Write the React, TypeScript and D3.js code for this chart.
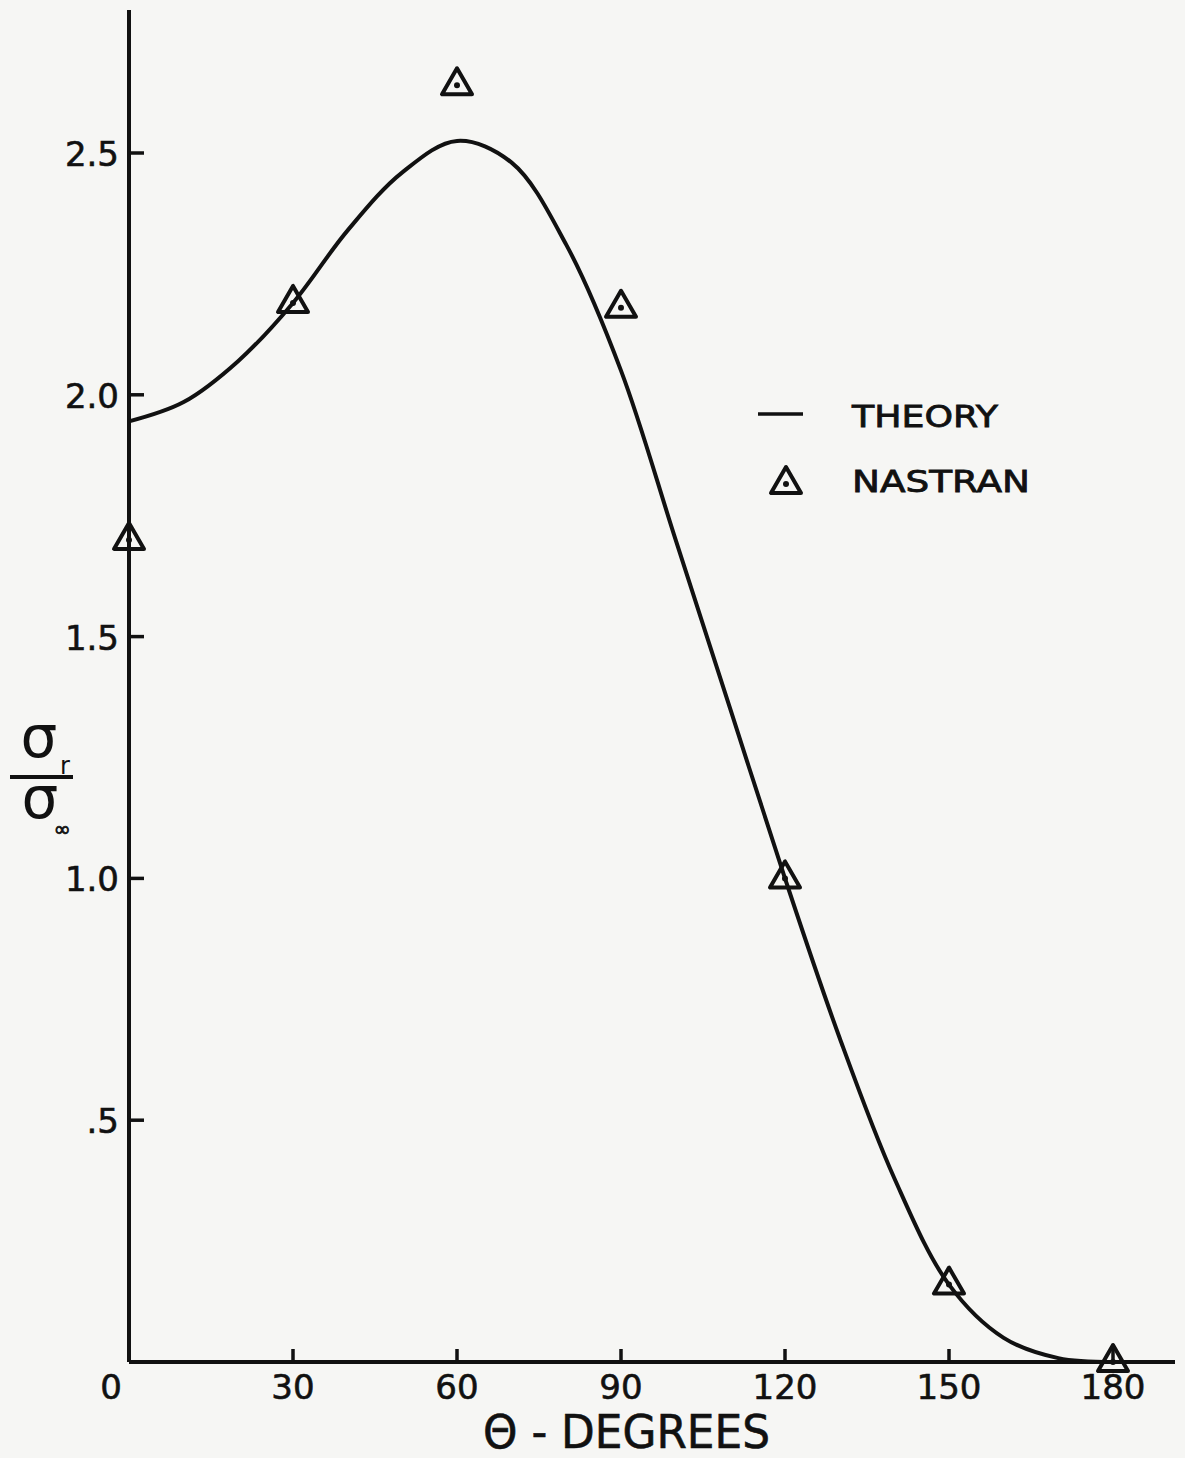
import React from 'react';
import * as d3 from 'd3';

// theory curve, every 10 degrees
const theoryTheta = [0, 10, 20, 30, 40, 50, 60, 70, 80, 90, 100, 110, 120, 130, 140, 150, 160, 170, 180];
const theoryRatio = [1.945, 1.985, 2.07, 2.19, 2.34, 2.46, 2.525, 2.48, 2.31, 2.05, 1.7, 1.35, 1.0, 0.67, 0.38, 0.16, 0.05, 0.008, 0];

// NASTRAN points
const nastranTheta = [0, 30, 60, 90, 120, 150, 180];
const nastranRatio = [1.7, 2.19, 2.64, 2.18, 1.0, 0.16, 0.0];

const xTicks = [0, 30, 60, 90, 120, 150, 180];
const yTicks = [0.5, 1.0, 1.5, 2.0, 2.5];
const yTickLabels = ['.5', '1.0', '1.5', '2.0', '2.5'];

const W = 1185;
const H = 1458;
const BG = '#f6f6f4';
const INK = '#111';
const FONT = "'DejaVu Sans', sans-serif";

function Triangle({ cx, cy }: { cx: number; cy: number }) {
  const pts = [[cx, cy - 17], [cx - 15, cy + 9], [cx + 15, cy + 9]].map(p => p.join(',')).join(' ');
  return (
    <g>
      <polygon points={pts} fill="none" stroke={INK} strokeWidth={4} strokeLinejoin="round" />
      <circle cx={cx} cy={cy} r={3} fill={INK} />
    </g>
  );
}

export default function App() {
  const x = d3.scaleLinear().domain([0, 180]).range([129, 1113]);
  const y = d3.scaleLinear().domain([0, 2.5]).range([1362, 153]);

  const theory = theoryTheta.map((t, i) => ({ t, v: theoryRatio[i] }));
  const line = d3.line<{ t: number; v: number }>()
    .x(d => x(d.t))
    .y(d => y(d.v))
    .curve(d3.curveCatmullRom.alpha(0.5));

  const x0 = x(0);
  const yBase = y(0);

  return (
    <svg width={W} height={H} style={{ position: 'absolute', left: 0, top: 0, display: 'block' }}>
      <rect width={W} height={H} fill={BG} />

      {/* axes */}
      <line x1={x0} x2={x0} y1={10} y2={yBase} stroke={INK} strokeWidth={4} />
      <line x1={x0} x2={1175} y1={yBase} y2={yBase} stroke={INK} strokeWidth={4} />

      {xTicks.filter(t => t > 0).map(t => (
        <line key={'xt' + t} x1={x(t)} x2={x(t)} y1={yBase} y2={yBase - 13} stroke={INK} strokeWidth={3.5} />
      ))}
      {xTicks.map(t => (
        <text key={'xl' + t} x={t === 0 ? x(t) - 18 : x(t)} y={1399} textAnchor="middle"
          fontFamily={FONT} fontSize={34} fill={INK} stroke={INK} strokeWidth={0.6}>{t}</text>
      ))}

      {yTicks.map((v, i) => (
        <g key={'y' + v}>
          <line x1={x0} x2={x0 + 15} y1={y(v)} y2={y(v)} stroke={INK} strokeWidth={3.5} />
          <text x={119} y={y(v) + 13} textAnchor="end" fontFamily={FONT} fontSize={34} fill={INK}
            stroke={INK} strokeWidth={0.6}>
            {yTickLabels[i]}
          </text>
        </g>
      ))}

      {/* theory curve */}
      <path d={line(theory) || ''} fill="none" stroke={INK} strokeWidth={4} />

      {/* nastran points */}
      {nastranTheta.map((t, i) => (
        <Triangle key={'n' + t} cx={x(t)} cy={y(nastranRatio[i])} />
      ))}

      {/* legend */}
      <line x1={758} x2={803} y1={414} y2={414} stroke={INK} strokeWidth={3.5} />
      <text x={852} y={427} fontFamily={FONT} fontSize={30} fill={INK} stroke={INK} strokeWidth={0.8}
        textLength={146} lengthAdjust="spacingAndGlyphs">THEORY</text>
      <Triangle cx={786} cy={484} />
      <text x={852} y={492} fontFamily={FONT} fontSize={30} fill={INK} stroke={INK} strokeWidth={0.8}
        textLength={178} lengthAdjust="spacingAndGlyphs">NASTRAN</text>

      {/* x label */}
      <text x={483} y={1448} fontFamily={FONT} fontSize={46} fill={INK} stroke={INK} strokeWidth={0.6}
        textLength={287} lengthAdjust="spacingAndGlyphs">Θ - DEGREES</text>

      {/* y label: sigma_r / sigma_inf */}
      <text x={39} y={757} textAnchor="middle" fontFamily={FONT} fontSize={58} fill={INK}>σ</text>
      <text x={65} y={774} textAnchor="middle" fontFamily={FONT} fontSize={24} fill={INK}>r</text>
      <line x1={10} x2={73} y1={777} y2={777} stroke={INK} strokeWidth={4} />
      <text x={40} y={818} textAnchor="middle" fontFamily={FONT} fontSize={58} fill={INK}>σ</text>
      <text x={62} y={836} textAnchor="middle" fontFamily={FONT} fontSize={20} fill={INK} stroke={INK} strokeWidth={0.8}>∞</text>
    </svg>
  );
}
